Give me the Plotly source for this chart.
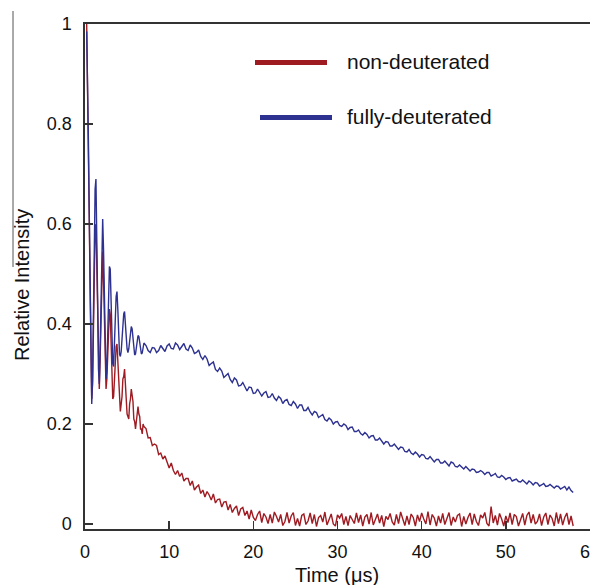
import plotly.graph_objects as go

# ---------------- data ----------------
# time grid: 0.2 .. 7.0 us every 0.1 us, then 7.25 .. 58.0 us every 0.25 us
t_early_start, t_early_step = 0.2, 0.1
t_late_start, t_late_step = 7.25, 0.25

blue_early = [0.985, 0.90, 0.77, 0.63, 0.50, 0.36, 0.24, 0.29, 0.42, 0.56,
              0.67, 0.69, 0.60, 0.45, 0.31, 0.28, 0.35, 0.47, 0.58, 0.61,
              0.55, 0.44, 0.33, 0.29, 0.31, 0.39, 0.47, 0.515, 0.51, 0.45,
              0.37, 0.32, 0.315, 0.35, 0.41, 0.455, 0.465, 0.43, 0.38, 0.34,
              0.335, 0.345, 0.37, 0.40, 0.42, 0.425, 0.40, 0.37, 0.35, 0.343,
              0.35, 0.365, 0.385, 0.395, 0.39, 0.37, 0.35, 0.338, 0.34, 0.35,
              0.365, 0.377, 0.375, 0.36, 0.347, 0.34, 0.342, 0.352, 0.362]

red_early = [1.0, 0.90, 0.76, 0.62, 0.48, 0.35, 0.25, 0.28, 0.38, 0.50,
             0.59, 0.60, 0.52, 0.40, 0.29, 0.27, 0.33, 0.43, 0.52, 0.545,
             0.49, 0.39, 0.30, 0.27, 0.29, 0.35, 0.41, 0.43, 0.42, 0.36,
             0.29, 0.25, 0.255, 0.29, 0.33, 0.355, 0.36, 0.33, 0.28, 0.245,
             0.225, 0.24, 0.255, 0.29, 0.295, 0.31, 0.275, 0.255, 0.22, 0.215,
             0.21, 0.24, 0.25, 0.27, 0.255, 0.245, 0.21, 0.205, 0.19, 0.21,
             0.215, 0.235, 0.22, 0.215, 0.19, 0.19, 0.18, 0.2, 0.195]

blue_late = [
    0.357, 0.347, 0.343, 0.353,  0.352, 0.343, 0.347, 0.357,  0.351, 0.345, 0.356, 0.360,
    0.351, 0.350, 0.362, 0.358,  0.349, 0.356, 0.361, 0.350,  0.347, 0.358, 0.352, 0.341,
    0.343, 0.348, 0.335, 0.329,  0.337, 0.330, 0.317, 0.321,  0.324, 0.309, 0.305, 0.312,
    0.306, 0.293, 0.297, 0.301,  0.289, 0.283, 0.292, 0.288,  0.276, 0.277, 0.283, 0.275,
    0.266, 0.274, 0.273, 0.261,  0.262, 0.270, 0.264, 0.256,  0.262, 0.265, 0.253, 0.254,
    0.261, 0.252, 0.247, 0.255,  0.251, 0.241, 0.247, 0.249,  0.239, 0.237, 0.245, 0.240,
    0.231, 0.238, 0.238, 0.227,  0.227, 0.233, 0.224, 0.218,  0.225, 0.223, 0.213, 0.217,
    0.219, 0.209, 0.206, 0.212,  0.208, 0.200, 0.204, 0.205,  0.197, 0.195, 0.200, 0.197,
    0.189, 0.193, 0.194, 0.185,  0.185, 0.188, 0.181, 0.178,  0.183, 0.179, 0.172, 0.176,
    0.177, 0.168, 0.168, 0.172,  0.167, 0.160, 0.165, 0.164,  0.156, 0.156, 0.160, 0.155,
    0.149, 0.154, 0.153, 0.145,  0.144, 0.149, 0.142, 0.139,  0.144, 0.140, 0.134, 0.139,
    0.138, 0.131, 0.130, 0.135,  0.130, 0.124, 0.129, 0.129,  0.122, 0.122, 0.126, 0.120,
    0.116, 0.124, 0.122, 0.115,  0.114, 0.118, 0.113, 0.110,  0.115, 0.111, 0.106, 0.110,
    0.109, 0.103, 0.104, 0.107,  0.104, 0.099, 0.103, 0.103,  0.096, 0.098, 0.101, 0.094,
    0.093, 0.097, 0.094, 0.089,  0.092, 0.093, 0.086, 0.088,  0.090, 0.085, 0.084, 0.088,
    0.083, 0.080, 0.086, 0.083,  0.078, 0.083, 0.082, 0.076,  0.078, 0.081, 0.075, 0.076,
    0.079, 0.076, 0.072, 0.076,  0.075, 0.070, 0.073, 0.075,  0.068, 0.074, 0.067, 0.063]

red_late = [
    0.191, 0.172, 0.173, 0.157,  0.160, 0.157, 0.139, 0.142,  0.130, 0.136, 0.125, 0.112,
    0.122, 0.107, 0.099, 0.107,  0.095, 0.102, 0.086, 0.091,  0.091, 0.077, 0.086, 0.068,
    0.074, 0.078, 0.061, 0.068,  0.054, 0.065, 0.058, 0.048,  0.060, 0.042, 0.049, 0.050,
    0.034, 0.044, 0.045, 0.028,  0.039, 0.023, 0.031, 0.036,  0.017, 0.030, 0.033, 0.017,
    0.026, 0.010, 0.028, 0.013,  0.007, 0.019, 0.026, 0.003,  0.021, 0.014, 0.001, 0.019,
    0.002, 0.024, 0.015, 0.004,  0.019, -0.003, 0.005, 0.023,  0.002, 0.016, 0.023, -0.003,
    0.011, -0.004, 0.017, 0.020,  -0.001, 0.006, 0.022, 0.001,  0.019, -0.005, 0.013, 0.017,
    0.004, 0.024, -0.002, 0.010,  0.020, 0.000, -0.004, 0.018,  0.012, 0.021, -0.001, 0.015,
    -0.003, 0.017, 0.010, 0.001,  0.022, 0.003, 0.018, -0.004,  0.014, 0.019, 0.000, 0.023,
    -0.002, 0.011, 0.020, 0.002,  0.017, -0.005, 0.015, 0.009,  0.021, 0.004, -0.002, 0.019,
    0.001, 0.024, 0.011, -0.003,  0.016, -0.001, 0.020, 0.013,  -0.004, 0.018, 0.005, 0.022,
    0.010, 0.000, 0.025, -0.002,  0.019, 0.012, -0.004, 0.016,  0.002, 0.021, -0.001, 0.011,
    0.023, -0.003, 0.014, 0.004,  0.017, 0.020, -0.005, 0.015,  0.000, 0.013, 0.022, -0.001,
    0.020, 0.005, -0.003, 0.018,  0.012, 0.023, 0.001, -0.004,  0.035, 0.002, 0.017, -0.002,
    0.021, 0.010, -0.004, 0.016,  0.003, 0.022, -0.001, 0.019,  0.015, -0.004, 0.011, 0.021,
    -0.002, 0.017, 0.024, 0.002,  0.019, 0.000, 0.005, 0.020,  -0.003, 0.014, 0.022, -0.001,
    0.018, 0.011, -0.004, 0.023,  0.001, 0.020, -0.002, 0.013,  0.022, -0.001, 0.016, -0.004]

series_names = ["non-deuterated", "fully-deuterated"]
x_ticks = [0, 10, 20, 30, 40, 50, 60]
y_ticks = [0, 0.2, 0.4, 0.6, 0.8, 1.0]
y_tick_text = ["0", "0.2", "0.4", "0.6", "0.8", "1"]
x_title = "Time (μs)"
y_title = "Relative Intensity"

assert len(blue_early) == len(red_early) == 69
assert len(blue_late) == len(red_late) == 204

time_us = ([round(t_early_start + i * t_early_step, 3) for i in range(len(blue_early))] +
           [round(t_late_start + i * t_late_step, 3) for i in range(len(blue_late))])
red_vals = red_early + red_late
blue_vals = blue_early + blue_late

RED = "#9e1b22"
BLUE = "#2d3190"
FONT = "Liberation Sans, Arial, Helvetica, sans-serif"

fig = go.Figure()
fig.add_trace(go.Scatter(x=time_us, y=red_vals, mode="lines", name=series_names[0],
                         line=dict(color=RED, width=1.4), hoverinfo="skip"))
fig.add_trace(go.Scatter(x=time_us, y=blue_vals, mode="lines", name=series_names[1],
                         line=dict(color=BLUE, width=1.4), hoverinfo="skip"))

L, T, B = 85, 24, 56
W, H = 590, 585
pw, ph = W - L, H - T - B


def px(xp):
    return (xp - L) / pw


def py(yp):
    return (H - B - yp) / ph


fig.update_layout(
    width=W, height=H,
    margin=dict(l=L, r=0, t=T, b=B, autoexpand=False),
    paper_bgcolor="white", plot_bgcolor="white",
    showlegend=False,
    font=dict(family=FONT, color="#111", size=18),
    xaxis=dict(range=[0, 60], tickvals=x_ticks, ticks="inside", ticklen=8, tickwidth=1.5,
               tickcolor="#333", showline=True, linecolor="#333", linewidth=1.6, mirror=True,
               showgrid=False, zeroline=False, tickfont=dict(size=18), ticklabelstandoff=6,
               ticklabeloverflow="allow", automargin=False),
    yaxis=dict(range=[-0.01, 1.0], tickvals=y_ticks, ticktext=y_tick_text, ticks="inside",
               ticklen=8, tickwidth=1.5, tickcolor="#333", showline=True, linecolor="#333",
               linewidth=1.6, showgrid=False, zeroline=False, tickfont=dict(size=18),
               ticklabelstandoff=8, ticklabeloverflow="allow", automargin=False),
)

# axis titles
fig.add_annotation(text=x_title, xref="paper", yref="paper", x=px(337), y=py(575),
                   xanchor="center", yanchor="middle", showarrow=False,
                   font=dict(size=20, family=FONT, color="#111"))
fig.add_annotation(text=y_title, xref="paper", yref="paper", x=px(22), y=py(285),
                   xanchor="center", yanchor="middle", showarrow=False, textangle=-90,
                   font=dict(size=20, family=FONT, color="#111"))

# legend drawn in place
fig.add_shape(type="line", xref="paper", yref="paper", x0=px(255), x1=px(327),
              y0=py(62.5), y1=py(62.5), line=dict(color=RED, width=5))
fig.add_shape(type="line", xref="paper", yref="paper", x0=px(260), x1=px(332),
              y0=py(117.5), y1=py(117.5), line=dict(color=BLUE, width=5))
fig.add_annotation(text=series_names[0], xref="paper", yref="paper", x=px(345), y=py(62),
                   xanchor="left", yanchor="middle", showarrow=False,
                   font=dict(size=21, family=FONT, color="#111"))
fig.add_annotation(text=series_names[1], xref="paper", yref="paper", x=px(345), y=py(116),
                   xanchor="left", yanchor="middle", showarrow=False,
                   font=dict(size=21, family=FONT, color="#111"))

# thin page rule at the far left of the reference
fig.add_shape(type="line", xref="paper", yref="paper", x0=px(13), x1=px(13),
              y0=py(11), y1=py(267), line=dict(color="#555", width=1))

# remove the default 8px page margin so the figure sits at the window's corner
fig.write_html("out.html", config={"displayModeBar": False, "staticPlot": True},
               post_script="document.body.style.margin='0';document.body.style.overflow='hidden';")
